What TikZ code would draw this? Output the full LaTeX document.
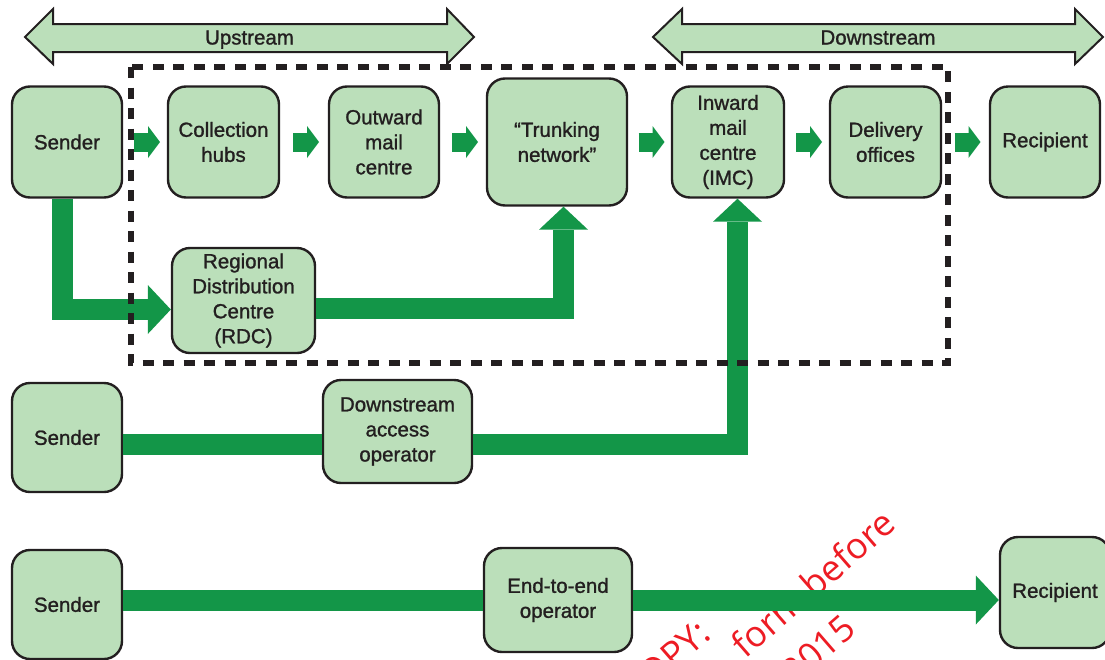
\documentclass[tikz,border=0pt]{standalone}
\usepackage{fontspec}
\setmainfont{Liberation Sans}[FakeBold=1.2]
\newfontfamily\wmfont{Open Sans}
\usetikzlibrary{arrows.meta,calc}

\definecolor{boxfill}{RGB}{187,223,186}
\definecolor{flowgreen}{RGB}{19,150,72}
\definecolor{edgegrey}{RGB}{35,31,32}
\definecolor{wmred}{RGB}{237,28,36}

\tikzset{
  stage/.style={draw=edgegrey, line width=2.4pt, fill=boxfill, rounded corners=18pt,
    align=center, inner sep=0pt, text=edgegrey, font=\fontsize{20.5}{25}\selectfont,
    minimum width=110pt, minimum height=111pt},
  spanlabel/.style={text=edgegrey, font=\fontsize{20.5}{25}\selectfont, anchor=base},
  flowline/.style={draw=flowgreen, line width=21pt, line join=miter},
  flow/.style={flowline, -{Triangle[width=49pt,length=23pt,line width=0pt]}},
  hop/.style={draw=flowgreen, line width=19pt, -{Triangle[width=32pt,length=12pt,line width=0pt]}},
  span/.style={draw=edgegrey, line width=2pt, fill=boxfill, line join=miter},
  wm/.style={text=wmred, font=\wmfont\fontsize{36}{42}\selectfont, rotate=41, inner sep=0pt, anchor=base east},
}

\begin{document}
\begin{tikzpicture}[x=1pt, y=-1pt]
  \useasboundingbox (0,0) rectangle (1105,659);
  % upstream / downstream spans
  \draw[span] (25,37) -- (53,9) -- (53,24) -- (447,24) -- (447,9) -- (474,37)
    -- (447,64) -- (447,52) -- (53,52) -- (53,64) -- cycle;
  \node[spanlabel] (up) at (249.5,44.5) {Upstream};
  \draw[span] (653,37) -- (682,9) -- (682,24) -- (1075,24) -- (1075,9) -- (1103,37)
    -- (1075,64) -- (1075,52) -- (682,52) -- (682,64) -- cycle;
  \node[spanlabel] (down) at (878,44.5) {Downstream};

  % top chain
  \node[stage] (send1) at (67,142) {Sender};
  \node[stage, minimum width=111pt] (coll) at (223.5,142) {Collection\\hubs};
  \node[stage] (outw) at (384,142) {Outward\\mail\\centre};
  \node[stage, minimum width=140pt, minimum height=127pt] (trunk) at (557,142) {“Trunking\\network”};
  \node[stage, minimum width=112pt] (imc) at (728,142) {Inward\\mail\\centre\\(IMC)};
  \node[stage, minimum width=111pt] (deliv) at (885.5,142) {Delivery\\offices};
  \node[stage] (recip1) at (1045,142) {Recipient};
  \node[stage, minimum width=143pt, minimum height=105pt] (rdc) at (243.5,300.5) {Regional\\Distribution\\Centre\\(RDC)};

  % access and end-to-end rows
  \node[stage, minimum height=109pt] (send2) at (67,437.5) {Sender};
  \node[stage, minimum width=149pt, minimum height=103pt] (dao) at (397.5,431.5) {Downstream\\access\\operator};
  \node[stage, minimum height=109pt] (send3) at (67,604.5) {Sender};
  \node[stage, minimum width=148pt, minimum height=104pt] (e2e) at (558,600) {End-to-end\\operator};
  \node[stage] (recip2) at (1055,592.5) {Recipient};

  % watermark
  \node[wm] (wm1) at (713,637) {COPY:};
  \node[wm] (wm2) at (898,527) {form before};
  \node[wm] (wm3) at (858,632) {2015};

  \foreach \a/\b in {send1/coll, coll/outw, outw/trunk, trunk/imc, imc/deliv, deliv/recip1}
    \draw[hop] ($(\a.east)!0.5!(\b.west)+(-11,0)$) -- ($(\a.east)!0.5!(\b.west)+(15,0)$);

  \draw[flow] ([xshift=-5pt]send1.south) |- ([yshift=-9pt]rdc.west);
  \draw[flow] ([yshift=-8pt]rdc.east) -| ([xshift=6.5pt]trunk.south);
  \coordinate (lane2) at ([yshift=-12.5pt]dao.west);
  \draw[flowline] (send2.east |- lane2) -- (lane2);
  \draw[flow] ([yshift=-12.5pt]dao.east) -| ([xshift=9.5pt]imc.south);
  \draw[flowline] (send3.east |- e2e.west) -- (e2e.west);
  \draw[flow] (e2e.east) -- (recip2.west |- e2e.east);

  \draw[edgegrey, line width=5.5pt, dash pattern=on 11pt off 9.5pt] (131,67) rectangle (948,363);
\end{tikzpicture}
\end{document}
